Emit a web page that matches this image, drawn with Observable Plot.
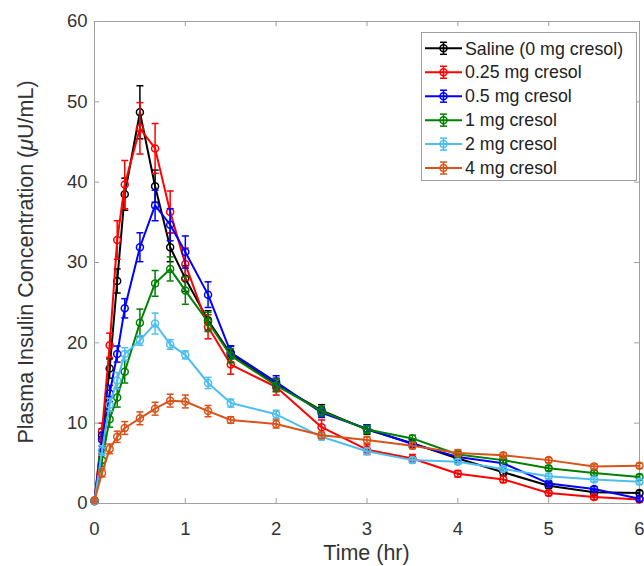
<!DOCTYPE html>
<html><head><meta charset="utf-8">
<script src="https://cdn.jsdelivr.net/npm/d3@7"></script>
<script src="https://cdn.jsdelivr.net/npm/@observablehq/plot@0.6"></script>
<style>body{margin:0;background:#fff;}</style>
</head><body><div id="chart"></div>
<script>
const time = [0, 0.083, 0.167, 0.25, 0.333, 0.5, 0.667, 0.833, 1, 1.25, 1.5, 2, 2.5, 3, 3.5, 4, 4.5, 5, 5.5, 6];
const seriesNames = ["Saline (0 mg cresol)", "0.25 mg cresol", "0.5 mg cresol", "1 mg cresol", "2 mg cresol", "4 mg cresol"];
const colors = ["#000000", "#ff0000", "#0000ff", "#008000", "#4dbeee", "#d95319"];

const saline    = [0.3, 8.5, 16.8, 27.7, 38.5, 48.7, 39.5, 31.9, 28.0, 22.8, 18.6, 14.8, 11.6, 9.2, 7.5, 5.6, 3.9, 2.2, 1.4, 1.3];
const cresol025 = [0.3, 9.0, 19.7, 32.8, 39.7, 46.7, 44.2, 36.3, 29.8, 22.0, 17.3, 14.5, 9.5, 6.7, 5.6, 3.7, 3.0, 1.3, 0.8, 0.5];
const cresol05  = [0.3, 8.0, 13.7, 18.6, 24.3, 31.9, 37.1, 34.7, 31.3, 26.0, 18.8, 15.1, 11.3, 9.3, 7.4, 5.8, 5.0, 2.5, 1.8, 0.6];
const cresol1   = [0.3, 5.4, 10.5, 13.2, 16.4, 22.5, 27.4, 29.2, 26.5, 22.6, 18.4, 14.7, 11.5, 9.2, 8.1, 6.1, 5.4, 4.4, 3.8, 3.3];
const cresol2   = [0.3, 6.6, 12.3, 15.3, 18.6, 20.3, 22.4, 19.8, 18.5, 15.0, 12.5, 11.1, 8.3, 6.5, 5.4, 5.2, 4.3, 3.4, 3.0, 2.7];
const cresol4   = [0.4, 3.8, 6.8, 8.3, 9.4, 10.6, 11.8, 12.8, 12.7, 11.5, 10.4, 9.9, 8.5, 7.9, 7.2, 6.3, 6.0, 5.4, 4.6, 4.7];

const salineErr    = [0.2, 0.8, 1.2, 1.5, 2.0, 3.3, 2.0, 1.8, 1.6, 1.2, 1.0, 0.8, 0.7, 0.6, 0.5, 0.5, 0.4, 0.3, 0.3, 0.3];
const cresol025Err = [0.2, 1.0, 1.5, 2.4, 3.0, 3.2, 3.1, 2.6, 2.0, 1.5, 1.2, 1.0, 0.9, 0.6, 0.5, 0.4, 0.4, 0.3, 0.3, 0.3];
const cresol05Err  = [0.2, 0.8, 1.0, 1.0, 1.2, 1.8, 1.9, 2.0, 2.0, 1.6, 0.8, 0.8, 0.6, 0.5, 0.4, 0.4, 0.4, 0.3, 0.3, 0.3];
const cresol1Err   = [0.2, 0.8, 1.0, 1.2, 1.4, 1.7, 1.6, 1.5, 1.7, 1.2, 0.9, 0.8, 0.6, 0.5, 0.4, 0.4, 0.4, 0.3, 0.3, 0.3];
const cresol2Err   = [0.2, 0.6, 0.8, 1.0, 0.8, 0.6, 1.3, 0.6, 0.5, 0.7, 0.5, 0.5, 0.4, 0.4, 0.3, 0.3, 0.3, 0.3, 0.3, 0.3];
const cresol4Err   = [0.2, 0.5, 0.6, 0.7, 0.8, 0.8, 0.8, 0.8, 0.8, 0.7, 0.4, 0.5, 0.4, 0.4, 0.4, 0.4, 0.3, 0.3, 0.3, 0.3];

const xTicks = [0, 1, 2, 3, 4, 5, 6];
const yTicks = [0, 10, 20, 30, 40, 50, 60];
const xLabel = "Time (hr)";

const seriesValues = [saline, cresol025, cresol05, cresol1, cresol2, cresol4];
const seriesErrors = [salineErr, cresol025Err, cresol05Err, cresol1Err, cresol2Err, cresol4Err];

const W = 644, H = 566, mL = 94, mR = 5, mT = 21, mB = 63;
const plotW = W - mL - mR, plotH = H - mT - mB;
const axisGray = "#a0a0a0";
const textGray = "#333333";
const font = "'Liberation Sans', Arial, Helvetica, sans-serif";

const capSymbol = {draw(ctx, size) { const r = Math.sqrt(size / Math.PI); ctx.moveTo(-r, 0); ctx.lineTo(r, 0); }};

const seriesMarks = [];
seriesNames.forEach((name, s) => {
  const data = time.map((t, i) => ({series: name, t, v: seriesValues[s][i], e: seriesErrors[s][i]}));
  const c = colors[s];
  seriesMarks.push(
    Plot.ruleX(data, {x: "t", y1: d => d.v - d.e, y2: d => d.v + d.e, stroke: c, strokeWidth: 1.5}),
    Plot.dot(data, {x: "t", y: d => d.v + d.e, symbol: capSymbol, r: 3.5, stroke: c, strokeWidth: 1.5, fill: "none"}),
    Plot.dot(data, {x: "t", y: d => d.v - d.e, symbol: capSymbol, r: 3.5, stroke: c, strokeWidth: 1.5, fill: "none"}),
    Plot.line(data, {x: "t", y: "v", stroke: c, strokeWidth: 2}),
    Plot.dot(data, {x: "t", y: "v", r: 3.5, stroke: c, strokeWidth: 1.5, fill: "none"})
  );
});

const chart = Plot.plot({
  width: W, height: H,
  marginLeft: mL, marginRight: mR, marginTop: mT, marginBottom: mB,
  x: {domain: [0, 6]},
  y: {domain: [0, 60]},
  style: {fontFamily: font, fontSize: "18.5px", color: textGray, background: "#fff"},
  marks: [
    Plot.axisX(xTicks, {tickSize: 0, tickPadding: 18, label: null, fontSize: 18.5, fill: textGray}),
    Plot.axisY(yTicks, {tickSize: 0, tickPadding: 7, label: null, fontSize: 18.5, fill: textGray}),
    Plot.tickX(xTicks, {x: d => d, insetTop: plotH - 5, stroke: axisGray}),
    Plot.tickX(xTicks, {x: d => d, insetBottom: plotH - 5, stroke: axisGray}),
    Plot.tickY(yTicks, {y: d => d, insetRight: plotW - 5, stroke: axisGray}),
    Plot.tickY(yTicks, {y: d => d, insetLeft: plotW - 5, stroke: axisGray}),
    Plot.frame({stroke: axisGray}),
    ...seriesMarks
  ]
});

const svg = d3.select(chart);
// axis titles
svg.append("text")
  .attr("x", mL + plotW / 2).attr("y", 560)
  .attr("text-anchor", "middle")
  .attr("font-family", font).attr("font-size", 21.5).attr("fill", textGray)
  .text(xLabel);
const yl = svg.append("text")
  .attr("transform", `translate(33,${mT + plotH / 2}) rotate(-90)`)
  .attr("text-anchor", "middle")
  .attr("font-family", font).attr("font-size", 21.5).attr("fill", textGray);
yl.append("tspan").text("Plasma Insulin Concentration (");
yl.append("tspan").attr("font-style", "italic").text("\u03bc");
yl.append("tspan").text("U/mL)");

// legend
const lg = svg.append("g").attr("font-family", font).attr("font-size", 17.8).attr("text-anchor", "start");
lg.append("rect").attr("x", 421.5).attr("y", 32.5).attr("width", 215).attr("height", 148)
  .attr("fill", "#fff").attr("stroke", axisGray);
const items = lg.selectAll("g.item").data(seriesNames).join("g")
  .attr("transform", (d, i) => `translate(0,${48.3 + i * 23.95})`);
items.append("line").attr("x1", 425).attr("x2", 462).attr("stroke", (d, i) => colors[i]).attr("stroke-width", 2);
items.append("line").attr("x1", 443.5).attr("x2", 443.5).attr("y1", -6).attr("y2", 6).attr("stroke", (d, i) => colors[i]).attr("stroke-width", 1.5);
items.append("line").attr("x1", 440).attr("x2", 447).attr("y1", -6).attr("y2", -6).attr("stroke", (d, i) => colors[i]).attr("stroke-width", 1.5);
items.append("line").attr("x1", 440).attr("x2", 447).attr("y1", 6).attr("y2", 6).attr("stroke", (d, i) => colors[i]).attr("stroke-width", 1.5);
items.append("circle").attr("cx", 443.5).attr("r", 3.5).attr("fill", "none").attr("stroke", (d, i) => colors[i]).attr("stroke-width", 1.5);
items.append("text").attr("x", 465).attr("dy", "0.35em").attr("text-anchor", "start").attr("fill", "#222").text(d => d);

document.getElementById("chart").appendChild(chart);
</script>
</body></html>
